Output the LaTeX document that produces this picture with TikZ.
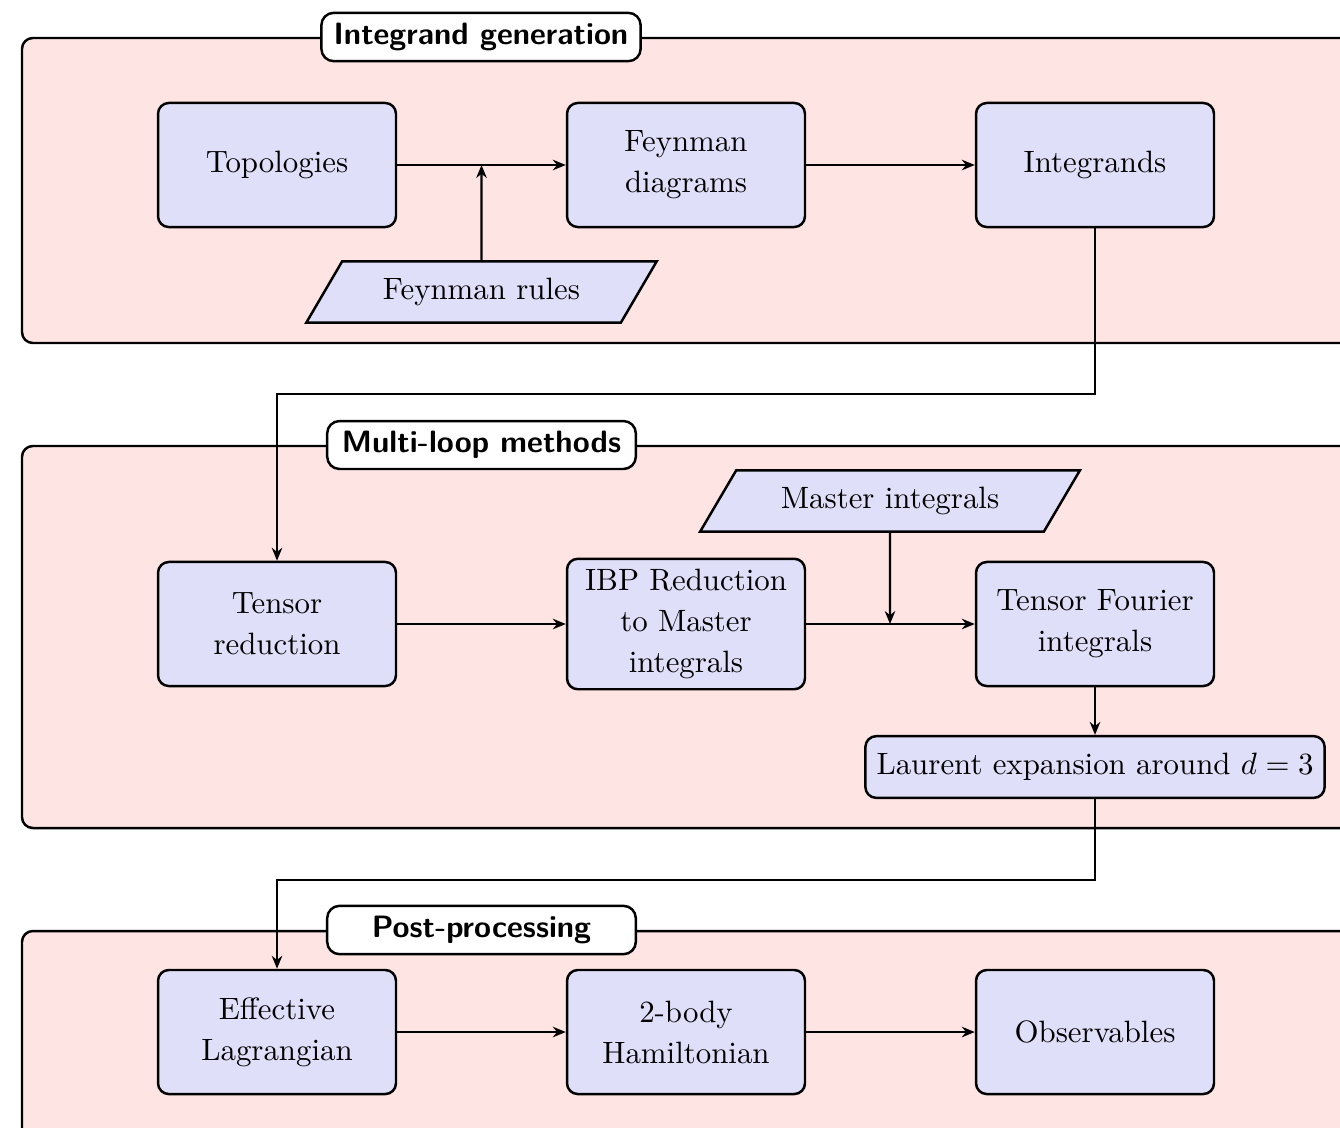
\documentclass[tikz,border=0pt]{standalone}
\usetikzlibrary{shapes.geometric,arrows.meta}
\definecolor{framefill}{RGB}{255,228,228}
\definecolor{boxfill}{RGB}{223,223,249}
\begin{document}
\begin{tikzpicture}[x=0.324pt,y=-0.324pt,
 frame/.style={draw=black,thick,fill=framefill,rounded corners=3.5pt},
 titlebox/.style={draw,thick,fill=white,rounded corners=4pt,font=\sffamily\bfseries,minimum width=100pt,minimum height=15.2pt,inner xsep=4pt},
 proc/.style={draw,thick,fill=boxfill,rounded corners=3.5pt,minimum width=77.1pt,minimum height=40.2pt,align=center,font=\fontsize{10}{13.3}\selectfont},
 io/.style={trapezium,trapezium left angle=60,trapezium right angle=120,trapezium stretches=true,draw,thick,fill=boxfill,minimum height=19.8pt},
 arr/.style={line width=0.7pt,-{Stealth[length=4.2pt,width=3.4pt]}}]
\useasboundingbox (0,0) rectangle (1340,1127);
\clip (0,0) rectangle (1340,1127);
% frames
\draw[frame] (22,38) rectangle (1420,343);
\draw[frame] (22,446) rectangle (1420,828);
\draw[frame] (22,931) rectangle (1420,1220);
\node[titlebox] (t1) at (481,37) {Integrand generation};
\node[titlebox] (t2) at (481.5,445) {Multi-loop methods};
\node[titlebox] (t3) at (481.5,930) {Post-processing};
% nodes
\node[proc] (topo) at (277,165) {Topologies};
\node[proc] (feyn) at (686,165) {Feynman\\diagrams};
\node[proc] (integ) at (1095,165) {Integrands};
\node[io,minimum width=114.4pt] (rules) at (481.5,292) {Feynman rules};
\node[proc] (tensor) at (277,624) {Tensor\\reduction};
\node[proc] (ibp) at (686,624) {IBP Reduction\\to Master\\integrals};
\node[proc] (tf) at (1095,624) {Tensor Fourier\\integrals};
\node[io,minimum width=124pt] (master) at (890,501) {Master integrals};
\node[proc,minimum width=0pt,minimum height=20pt,inner xsep=3.6pt] (laurent) at (1095,767) {Laurent expansion around $d=3$};
\node[proc] (efflag) at (277,1032) {Effective\\Lagrangian};
\node[proc] (ham) at (686,1032) {2-body\\Hamiltonian};
\node[proc] (obs) at (1095,1032) {Observables};
\coordinate (j1) at (686,394);
\coordinate (j2) at (686,880);
% connectors
\draw[arr] (topo) -- (feyn);
\draw[arr] (feyn) -- (integ);
\draw[arr] (rules) -- (rules |- topo);
\draw[arr] (integ.south) |- (j1) -| (tensor.north);
\draw[arr] (tensor) -- (ibp);
\draw[arr] (ibp) -- (tf);
\draw[arr] (master) -- (master |- tf);
\draw[arr] (tf) -- (laurent);
\draw[arr] (laurent.south) |- (j2) -| (efflag.north);
\draw[arr] (efflag) -- (ham);
\draw[arr] (ham) -- (obs);
\end{tikzpicture}
\end{document}
